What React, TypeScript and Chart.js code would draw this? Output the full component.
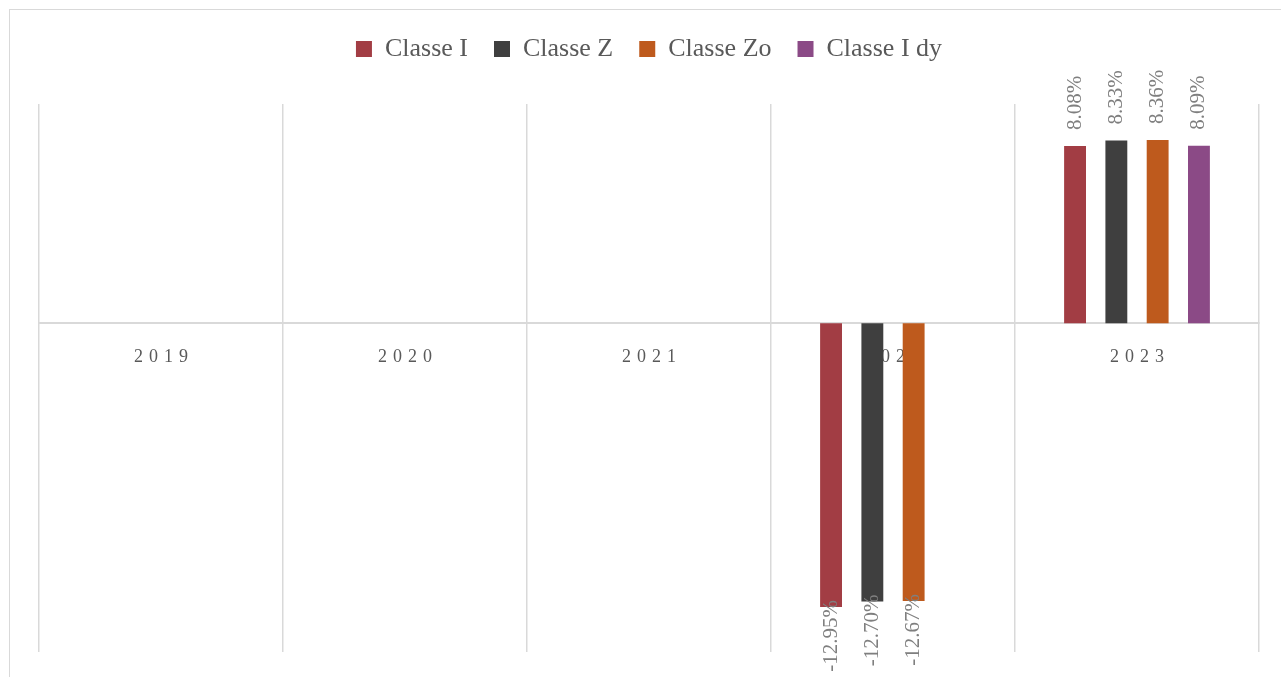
import React, { useEffect, useRef } from "react";
import { Chart, registerables } from "chart.js";

Chart.register(...registerables);

const categories = ["2019", "2020", "2021", "2022", "2023"];
const seriesNames = ["Classe I", "Classe Z", "Classe Zo", "Classe I dy"];
const classeI = [null, null, null, -12.95, 8.08];
const classeZ = [null, null, null, -12.7, 8.33];
const classeZo = [null, null, null, -12.67, 8.36];
const classeIdy = [null, null, null, null, 8.09];
const seriesColors = ["#A23D44", "#3F3F3F", "#BE5A1D", "#8B4A86"];
const yMin = -15;
const yMax = 10;

const FONT = '"Liberation Serif", "Times New Roman", serif';
const LEGEND_EXTRA = 32;

const labelPlugin = {
  id: "barLabels",
  afterDatasetsDraw(chart: any) {
    const ctx = chart.ctx;
    ctx.save();
    ctx.font = `21px ${FONT}`;
    ctx.fillStyle = "#7f7f7f";
    ctx.textBaseline = "middle";
    chart.data.datasets.forEach((ds: any, i: number) => {
      const meta = chart.getDatasetMeta(i);
      meta.data.forEach((bar: any, j: number) => {
        const v = ds.data[j];
        if (v === null || v === undefined) return;
        const text = v.toFixed(2) + "%";
        ctx.save();
        if (v >= 0) {
          ctx.translate(bar.x, bar.y - 16);
          ctx.rotate(-Math.PI / 2);
          ctx.textAlign = "left";
        } else {
          ctx.translate(bar.x, bar.y - 7);
          ctx.rotate(-Math.PI / 2);
          ctx.textAlign = "right";
        }
        ctx.fillText(text, 0, 0);
        ctx.restore();
      });
    });
    ctx.restore();
  },
};

const legendSpacer = {
  id: "legendSpacer",
  beforeInit(chart: any) {
    const lg = chart.legend;
    if (lg && !lg._spaced) {
      const orig = lg.fit;
      lg.fit = function () {
        orig.call(this);
        this.height += LEGEND_EXTRA;
      };
      lg._spaced = true;
    }
  },
};

export default function App() {
  const ref = useRef<HTMLCanvasElement>(null);

  useEffect(() => {
    document.documentElement.style.overflow = "hidden";
    const dataArrays = [classeI, classeZ, classeZo, classeIdy];
    const chart = new Chart(ref.current as HTMLCanvasElement, {
      type: "bar",
      data: {
        labels: categories,
        datasets: seriesNames.map((name, i) => ({
          label: name,
          data: dataArrays[i] as any,
          backgroundColor: seriesColors[i],
          borderWidth: 0,
          categoryPercentage: 0.677,
          barPercentage: 0.53,
        })),
      },
      options: {
        animation: false,
        responsive: true,
        maintainAspectRatio: false,
        layout: { padding: { left: 29, right: 51, top: 0, bottom: 30 } },
        plugins: {
          tooltip: { enabled: false },
          legend: {
            position: "top",
            align: "center",
            labels: {
              boxWidth: 16,
              boxHeight: 16,
              padding: 26,
              color: "#595959",
              font: { family: FONT, size: 26 },
            },
          },
        },
        scales: {
          x: {
            position: { y: 0 } as any,
            offset: true,
            grid: {
              display: true,
              offset: true,
              color: "#d9d9d9",
              lineWidth: 1.5,
              drawTicks: false,
            },
            border: { display: true, color: "#d9d9d9", width: 2 },
            ticks: {
              color: "#595959",
              padding: 23,
              font: { family: FONT, size: 18 },
              callback: (_v: any, i: number) => categories[i].split("").join("\u2004"),
            },
          },
          y: {
            display: false,
            min: yMin,
            max: yMax,
            grid: { display: false },
          },
        },
      },
      plugins: [labelPlugin, legendSpacer],
    });
    return () => chart.destroy();
  }, []);

  return (
    <div
      style={{
        position: "fixed",
        left: 9,
        top: 9,
        width: 1302,
        height: 674,
        border: "1px solid #d9d9d9",
        boxSizing: "border-box",
        background: "#fff",
      }}
    >
      <div style={{ position: "relative", width: 1300, height: 672 }}>
        <canvas ref={ref} />
      </div>
    </div>
  );
}
